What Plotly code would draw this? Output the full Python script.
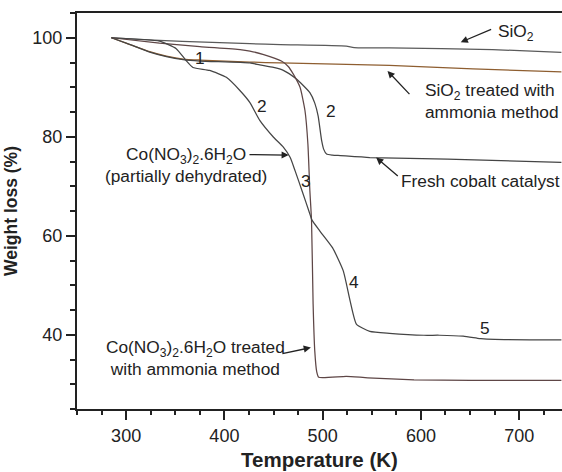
import plotly.graph_objects as go

# ---------------- data ----------------
# SiO2
sio2_T = [285, 300, 334, 380, 426, 457, 524, 532, 568, 673, 743]
sio2_W = [100, 99.8, 99.45, 99.1, 98.8, 98.6, 98.3, 98.0, 97.95, 97.6, 97.05]

# SiO2 treated with ammonia method
sio2nh3_T = [285, 300, 324, 341, 358, 375, 426, 457, 568, 653, 743]
sio2nh3_W = [100, 98.9, 97.2, 96.3, 95.7, 95.5, 95.1, 94.9, 94.4, 93.7, 93.1]

# Fresh cobalt catalyst
fresh_T = [285, 307, 324, 341, 358, 375, 426, 436, 450, 460, 473, 480, 487, 492,
           495.4, 499, 501, 504, 510, 518, 548, 627, 743]
fresh_W = [100, 98.4, 97.1, 96.2, 95.6, 95.3, 94.9, 94.5, 94.0, 93.4, 91.7, 90.4,
           88.9, 86.8, 84.2, 79.2, 77.5, 76.5, 76.3, 76.2, 75.8, 75.5, 74.8]

# Co(NO3)2.6H2O treated with ammonia method
conh3_T = [285, 334, 375, 416, 426, 440, 458, 465, 470, 477, 482, 485, 487, 488.7,
           490.3, 492, 494, 496, 524, 546, 593, 651, 743]
conh3_W = [100, 98.9, 98.2, 97.6, 97.3, 96.6, 95.3, 94.2, 92.7, 90.0, 85.3, 78.5,
           69.1, 63.0, 46.2, 36.7, 32.5, 31.4, 31.6, 31.3, 30.9, 30.8, 30.8]

# Co(NO3)2.6H2O (partially dehydrated)
codh_T = [285, 334, 351, 361, 368, 385, 402, 416, 426, 436, 450, 460, 467, 472,
          479, 487, 489, 497, 510, 521, 528, 534.5, 548, 568, 603, 619, 643, 657,
          661, 675, 743]
codh_W = [100, 99.3, 97.8, 95.4, 94.0, 93.4, 92.0, 89.3, 86.9, 83.3, 79.9, 77.9,
          75.8, 73.1, 69.1, 64.4, 63.2, 61.0, 57.6, 52.9, 46.8, 42.1, 40.7, 40.3,
          39.9, 39.9, 39.7, 39.3, 39.2, 39.05, 38.95]

x_ticks = [300, 400, 500, 600, 700]
y_ticks = [40, 60, 80, 100]

FONT = "Liberation Sans, Arial, Helvetica, sans-serif"
INK = "#222222"

fig = go.Figure()
series = [
    (sio2_T, sio2_W, "#5a5a5a"),
    (sio2nh3_T, sio2nh3_W, "#8e5e30"),
    (fresh_T, fresh_W, "#454545"),
    (conh3_T, conh3_W, "#5e4646"),
    (codh_T, codh_W, "#454545"),
]
for tx, wy, col in series:
    fig.add_trace(go.Scatter(x=tx, y=wy, mode="lines",
                             line=dict(color=col, width=1.25, shape="spline", smoothing=0.5),
                             showlegend=False, hoverinfo="skip"))

anns = []
def txt(x, y, s, xanchor="center", align="center", size=17.3):
    anns.append(dict(x=x, y=y, xref="x", yref="y", text=s, showarrow=False,
                     xanchor=xanchor, yanchor="middle", align=align,
                     font=dict(family=FONT, size=size, color=INK)))

def arrow(x0, y0, x1, y1):
    anns.append(dict(x=x1, y=y1, ax=x0, ay=y0, xref="x", yref="y", axref="x", ayref="y",
                     text="", showarrow=True, arrowhead=2, arrowsize=1.1,
                     arrowwidth=1.3, arrowcolor=INK, standoff=0, startstandoff=0))

txt(676, 101.1, "SiO<sub>2</sub>", xanchor="left")
arrow(673, 101.8, 640.5, 99.1)
txt(602.5, 87.2, "SiO<sub>2</sub> treated with<br>ammonia method", xanchor="left", align="left")
arrow(589.8, 88.3, 566, 93.3)
txt(578, 71.1, "Fresh cobalt catalyst", xanchor="left")
arrow(578, 71.8, 554.5, 75.8)
txt(361, 74.3, "Co(NO<sub>3</sub>)<sub>2</sub>.6H<sub>2</sub>O<br>(partially dehydrated)")
arrow(424, 76.4, 465.5, 76.3)
txt(371, 35.3, "Co(NO<sub>3</sub>)<sub>2</sub>.6H<sub>2</sub>O treated<br>with ammonia method")
arrow(457.5, 36.1, 488, 37.4)

# step labels
txt(375.2, 96.0, "1")
txt(438.6, 86.2, "2")
txt(509.0, 85.3, "2")
txt(483.4, 71.1, "3")
txt(531.5, 50.6, "4")
txt(664.9, 41.4, "5")

fig.update_layout(
    width=562, height=472,
    margin=dict(l=77, r=0, t=13, b=63),
    paper_bgcolor="white", plot_bgcolor="white",
    font=dict(family=FONT, size=18, color=INK),
    annotations=anns,
    showlegend=False,
)
fig.update_xaxes(
    range=[250, 743.6], tickvals=x_ticks, ticks="outside", ticklen=9, tickwidth=1.5,
    tickcolor=INK, showline=True, linewidth=2, linecolor=INK, mirror=True,
    showgrid=False, zeroline=False,
    minor=dict(dtick=25, tick0=0, ticks="outside", ticklen=4, tickwidth=1.5, tickcolor=INK, showgrid=False),
    tickfont=dict(family=FONT, size=18, color=INK),
    title=dict(text="<b>Temperature (K)</b>", font=dict(family=FONT, size=20.5, color=INK), standoff=8),
)
fig.update_yaxes(
    range=[25, 105], tickvals=y_ticks, ticks="outside", ticklen=9, tickwidth=1.5,
    tickcolor=INK, showline=True, linewidth=2, linecolor=INK, mirror=False,
    showgrid=False, zeroline=False,
    minor=dict(dtick=5, tick0=0, ticks="outside", ticklen=5, tickwidth=1.5, tickcolor=INK, showgrid=False),
    tickfont=dict(family=FONT, size=18, color=INK),
    title=dict(text="<b>Weight loss (%)</b>", font=dict(family=FONT, size=17.5, color=INK), standoff=10),
)

fig.write_html("out.html")
